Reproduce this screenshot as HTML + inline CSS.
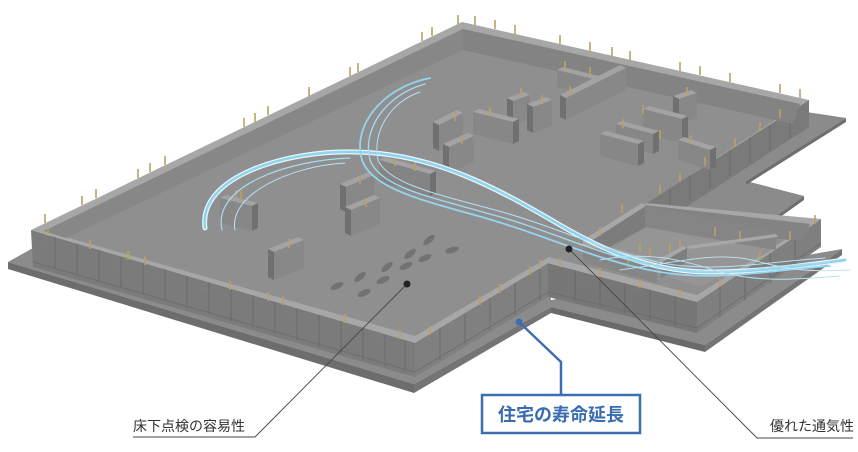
<!DOCTYPE html>
<html><head><meta charset="utf-8"><style>
html,body{margin:0;padding:0;background:#fff;width:858px;height:452px;overflow:hidden}
svg{display:block}
.t{font-family:"Liberation Sans","Noto Sans CJK JP",sans-serif}
</style></head><body>
<svg width="858" height="452" viewBox="0 0 858 452" xmlns="http://www.w3.org/2000/svg">
<!-- base slab -->
<g>
<polygon points="8,262 40,244 548,280 551,300 842,249 705,345 551,307 414,384" fill="#8b8b8b"/>
<polygon points="8,262 414,384 414,393 8,269" fill="#6d6d6d"/>
<polygon points="414,384 551,307 551,313 414,393" fill="#747474"/>
<polygon points="551,307 705,345 705,352 551,313" fill="#6a6a6a"/>
<polygon points="705,345 842,249 842,255 705,352" fill="#747474"/>
<polygon points="780,108 846,118 746,181 804,196 762,226 660,222" fill="#8b8b8b"/>
<polygon points="846,118 746,181 746,185 846,122" fill="#6f6f6f"/>
<polygon points="804,196 762,226 762,230 804,200" fill="#6f6f6f"/>
</g>
<!-- wall outer faces -->
<g fill="#7b7b7b">
<polygon points="809,100 646,203 660,224 809,127" fill="#7a7a7a"/>
<polygon points="31,230 415,343 415,377 33,267"/>
<polygon points="415,343 548,263 548,297 415,377" fill="#808080"/>
<polygon points="548,263 697,302 697,333 548,297" fill="#777"/>
<polygon points="697,302 821,219 821,247 697,333" fill="#7f7f7f"/>
</g>
<g stroke="#666" stroke-width="1" fill="none" opacity="0.8">
<path d="M55,237v32M77,243v32M99,250v32M121,256v32M143,263v32M165,269v32M187,276v32M209,282v32M231,289v32M253,295v32M275,302v32M297,308v32M319,315v32M341,321v32M363,328v32M385,334v32M405,340v32"/>
<path d="M440,328v32M465,313v32M490,298v32M515,283v32M540,268v32"/>
<path d="M575,270v30M600,277v30M625,283v30M650,290v30M675,296v30"/>
<path d="M720,287v30M745,270v30M770,253v30M795,236v28"/>
<path d="M790,112v26M770,125v26M750,137v26M730,150v26M710,163v26M690,175v26M670,188v26"/>
<path d="M33,262L415,372L548,292L697,328L821,243" stroke="#6a6a6a"/>
</g>
<g stroke="#8a8a8a" stroke-width="0.6" opacity="0.5">
<path d="M40,245l10,5M70,255l8,-4M110,262l9,4M150,275l8,-3M200,288l10,3M250,300l8,-4M290,312l9,3M340,328l8,-3M380,338l9,4M450,330l8,3M500,300l8,-2M580,280l9,3M630,292l8,-3M730,290l8,2M780,262l7,-3"/>
</g>
<!-- top outline (wall tops) -->
<polygon points="31,230 462,22 809,100 646,203 821,219 697,302 548,263 415,343" fill="#a7a7a7"/>
<!-- floor -->
<polygon points="44,231 463,29 800,104 644,205 810,224 697,295 549,257 415,336" fill="#8f8f8f"/>
<!-- inner faces -->
<polygon points="44,231 463,29 463,50 66,238" fill="#878787"/>
<polygon points="463,29 800,104 793,124 463,50" fill="#838383"/>
<polygon points="644,205 810,224 803,241 646,227" fill="#838383"/>
<!-- lower rooms -->
<polygon points="646,227 773,250 700,287 600,256" fill="#959595"/>
<polygon points="583,240 642,203 646,206 588,243" fill="#a7a7a7"/>
<polygon points="588,243 646,206 646,227 600,252" fill="#7c7c7c"/>
<polygon points="645,206 776,232 776,250 645,227" fill="#858585"/>
<polygon points="583,240 657,260 657,265 583,245" fill="#a7a7a7"/>
<polygon points="583,245 657,265 657,283 583,262" fill="#868686"/>
<polygon points="657,260 683,246 687,248 661,263" fill="#a7a7a7"/>
<polygon points="661,263 687,248 687,262 661,278" fill="#7e7e7e"/>
<polygon points="687,246 776,234 778,237 689,249" fill="#a7a7a7"/>
<!-- footprints -->
<g fill="#727272">
<ellipse cx="337" cy="286" rx="7" ry="3" transform="rotate(-25 337 286)"/>
<ellipse cx="360" cy="277" rx="7" ry="3" transform="rotate(-40 360 277)"/>
<ellipse cx="364" cy="293" rx="7" ry="3" transform="rotate(-25 364 293)"/>
<ellipse cx="383" cy="280" rx="7" ry="3" transform="rotate(-25 383 280)"/>
<ellipse cx="387" cy="267" rx="7" ry="3" transform="rotate(-40 387 267)"/>
<ellipse cx="406" cy="266" rx="7" ry="3" transform="rotate(-25 406 266)"/>
<ellipse cx="410" cy="254" rx="7" ry="3" transform="rotate(-40 410 254)"/>
<ellipse cx="429" cy="240" rx="7" ry="3" transform="rotate(-40 429 240)"/>
<ellipse cx="425" cy="258" rx="7" ry="3" transform="rotate(-25 425 258)"/>
<ellipse cx="452" cy="250" rx="7" ry="3" transform="rotate(-15 452 250)"/>
</g>
<!-- blocks -->
<g>
<!-- far first -->
<polygon points="557,70 593,79 599,76 563,67" fill="#a3a3a3"/><polygon points="557,70 593,79 593,96 557,87" fill="#878787"/><polygon points="593,79 599,76 599,93 593,96" fill="#707070"/>
<polygon points="566,98 626,68 620,65 560,95" fill="#a3a3a3"/><polygon points="566,98 626,68 626,90 566,120" fill="#888"/><polygon points="566,98 560,95 560,117 566,120" fill="#707070"/>
<polygon points="679,99 697,93 691,90 673,96" fill="#a3a3a3"/><polygon points="679,99 697,93 697,118 679,124" fill="#888"/><polygon points="679,99 673,96 673,121 679,124" fill="#707070"/>
<polygon points="513,101 530,95 524,92 507,98" fill="#a3a3a3"/><polygon points="513,101 530,95 530,119 513,125" fill="#888"/><polygon points="513,101 507,98 507,122 513,125" fill="#707070"/>
<polygon points="533,107 552,100 546,97 527,104" fill="#a3a3a3"/><polygon points="533,107 552,100 552,126 533,133" fill="#888"/><polygon points="533,107 527,104 527,130 533,133" fill="#707070"/>
<polygon points="643,109 682,119 688,116 649,106" fill="#a3a3a3"/><polygon points="643,109 682,119 682,143 643,133" fill="#878787"/><polygon points="682,119 688,116 688,140 682,143" fill="#707070"/>
<polygon points="473,112 513,122 519,119 479,109" fill="#a3a3a3"/><polygon points="473,112 513,122 513,144 473,134" fill="#878787"/><polygon points="513,122 519,119 519,141 513,144" fill="#707070"/>
<polygon points="439,125 463,113 457,110 433,122" fill="#a3a3a3"/><polygon points="439,125 463,113 463,139 439,151" fill="#888"/><polygon points="439,125 433,122 433,148 439,151" fill="#707070"/>
<polygon points="616,124 653,134 659,131 622,121" fill="#a3a3a3"/><polygon points="616,124 653,134 653,154 616,144" fill="#878787"/><polygon points="653,134 659,131 659,151 653,154" fill="#707070"/>
<polygon points="600,134 638,144 644,141 606,131" fill="#a3a3a3"/><polygon points="600,134 638,144 638,166 600,156" fill="#878787"/><polygon points="638,144 644,141 644,163 638,166" fill="#707070"/>
<polygon points="678,140 710,150 716,147 684,137" fill="#a3a3a3"/><polygon points="678,140 710,150 710,170 678,160" fill="#878787"/><polygon points="710,150 716,147 716,167 710,170" fill="#707070"/>
<polygon points="449,147 474,136 468,133 443,144" fill="#a3a3a3"/><polygon points="449,147 474,136 474,162 449,173" fill="#888"/><polygon points="449,147 443,144 443,170 449,173" fill="#707070"/>
<polygon points="379,160 430,174 436,171 385,157" fill="#a3a3a3"/><polygon points="379,160 430,174 430,196 379,182" fill="#848484"/><polygon points="430,174 436,171 436,193 430,196" fill="#707070"/>
<polygon points="346,187 374,175 368,172 340,184" fill="#a3a3a3"/><polygon points="346,187 374,175 374,200 346,212" fill="#888"/><polygon points="346,187 340,184 340,209 346,212" fill="#707070"/>
<polygon points="220,198 252,206 258,203 226,195" fill="#a3a3a3"/><polygon points="220,198 252,206 252,231 220,223" fill="#878787"/><polygon points="252,206 258,203 258,228 252,231" fill="#707070"/>
<polygon points="351,210 380,198 374,195 345,207" fill="#a3a3a3"/><polygon points="351,210 380,198 380,224 351,236" fill="#888"/><polygon points="351,210 345,207 345,233 351,236" fill="#707070"/>
<polygon points="274,252 304,240 298,237 268,249" fill="#a3a3a3"/><polygon points="274,252 304,240 304,268 274,280" fill="#888"/><polygon points="274,252 268,249 268,277 274,280" fill="#707070"/>
</g>
<!-- anchor bolts -->
<g stroke="#b8a263" stroke-width="1.6" fill="none">
<path d="M45,223v-9M82,205v-9M96,198v-9M138,178v-9M150,172v-9M165,165v-9M244,127v-9M255,122v-9M268,115v-9M309,96v-9M350,76v-9M358,72v-9M422,41v-9M432,36v-9M458,24v-9M475,25v-9M495,29v-9M515,34v-9M560,44v-9M590,51v-9M612,56v-9M630,60v-9M680,71v-9M700,75v-9M730,82v-9M780,93v-9M800,98v-9"/>
<path d="M48,236v-9M90,249v-9M128,260v-9M145,265v-9M230,290v-9M268,301v-9M283,305v-9M345,323v-9M400,339v-9M430,335v-9M480,305v-9M500,293v-9M530,275v-9M540,269v-9M560,267v-9M600,277v-9M640,288v-9M680,298v-9M720,287v-9M760,260v-9M790,240v-9M815,224v-9M780,118v-9M760,131v-9M735,147v-9M705,166v-9M680,182v-9M660,194v-9"/>
<path d="M236,199v-9M241,200v-9M360,184v-9M366,207v-9M289,248v-9M455,121v-9M462,144v-9M490,116v-9M521,97v-9M542,104v-9M565,70v-9M590,76v-9M570,95v-9M623,128v-9M643,114v-9M660,139v-9M687,96v-9M691,144v-9M395,166v-9M415,171v-9M600,236v-9M622,213v-9M640,252v-9M650,256v-9M670,252v-9M680,248v-9M715,236v-9M740,240v-9M628,267v-9"/>
</g>
<!-- airflow -->
<g fill="none" stroke-linecap="round">
<path d="M205,228 C198,175 290,150 355,152 C435,153 500,190 560,225 C615,257 660,272 710,272 C760,272 800,266 845,260" stroke="#e8f7fd" stroke-width="5"/>
<path d="M205,228 C198,175 290,150 355,152 C435,153 500,190 560,225 C615,257 660,272 710,272 C760,272 800,266 845,260" stroke="#8fd3ee" stroke-width="2.5"/>
<path d="M222,230 C212,185 290,160 350,158" stroke="#a8dcf0" stroke-width="1.2"/>
<path d="M235,230 C228,195 290,166 345,163" stroke="#b8e3f3" stroke-width="1"/>
<path d="M430,78 C380,88 352,128 362,160 C372,190 430,202 485,218 C545,235 600,262 660,272 C720,282 770,270 830,266" stroke="#96d5ef" stroke-width="1.8"/>
<path d="M425,84 C385,95 362,130 370,160 C380,188 435,198 490,214 C550,230 605,258 665,268 C720,278 770,266 830,262" stroke="#a5dbf1" stroke-width="1.3"/>
<path d="M420,92 C390,102 372,132 378,160 C388,184 440,195 495,210 C555,226 610,254 668,264 C720,272 765,262 825,258" stroke="#b5e1f3" stroke-width="1"/>
<path d="M600,260 C650,250 690,262 720,272 C760,282 790,280 840,276" stroke="#b5e1f3" stroke-width="1"/>
<path d="M620,270 C680,262 720,250 760,262 C790,270 810,272 850,270" stroke="#c2e6f5" stroke-width="0.9"/>
</g>
<!-- callouts -->
<g stroke="#444" stroke-width="0.9" fill="none">
<path d="M407,284 L255,437 L133,437"/>
<path d="M569,249 L757,438 L853,438"/>
</g>
<circle cx="407" cy="284" r="3.5" fill="#222"/>
<circle cx="569" cy="249" r="3.5" fill="#222"/>
<path d="M519,322 L561,362 L561,395" stroke="#3d6fb0" stroke-width="2.5" fill="none"/>
<circle cx="519" cy="322" r="3.5" fill="#3d6fb0"/>
<rect x="482" y="395" width="158" height="38" fill="#fff" stroke="#3d6fb0" stroke-width="2.5"/>
<text x="561" y="421" text-anchor="middle" class="t" font-size="18" font-weight="bold" fill="#3a6db0">住宅の寿命延長</text>
<text x="133" y="431" class="t" font-size="14" fill="#333">床下点検の容易性</text>
<text x="770" y="431" class="t" font-size="14" fill="#333">優れた通気性</text>
</svg>
</body></html>
